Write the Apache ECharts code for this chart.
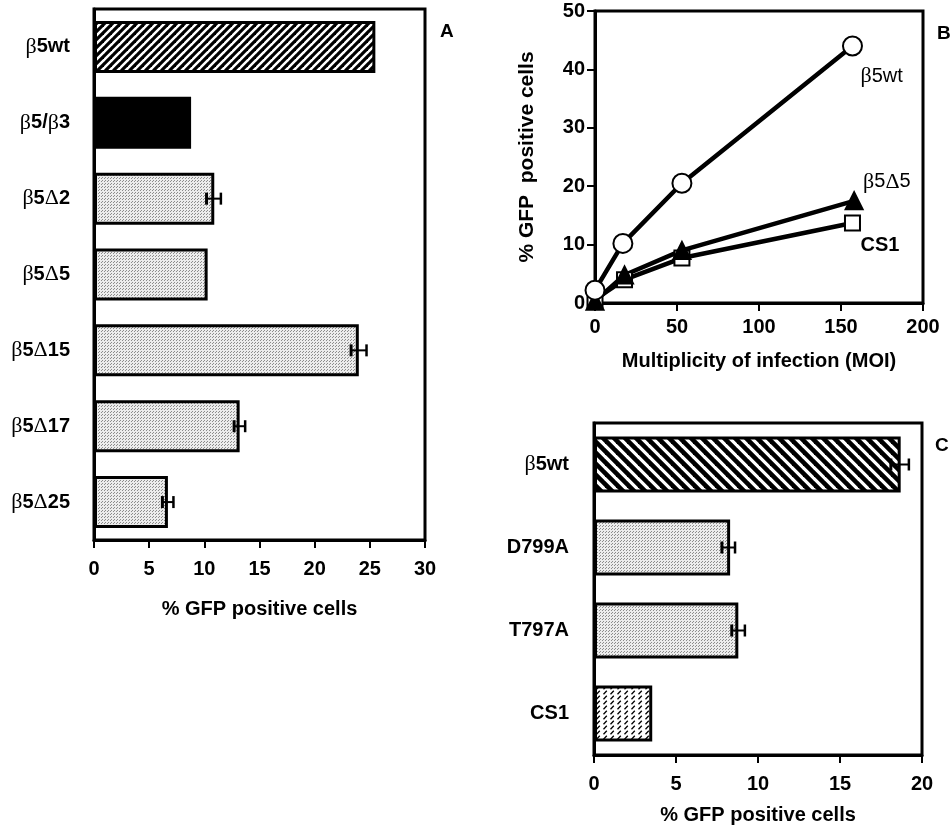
<!DOCTYPE html>
<html><head><meta charset="utf-8">
<script src="https://cdn.jsdelivr.net/npm/echarts@6/dist/echarts.min.js"></script>
<style>html,body{margin:0;padding:0;background:#fff}#c{width:951px;height:825px}</style>
</head><body><div id="c"></div>
<script>
// ---------- data ----------
const catsA = ['β5wt', 'β5/β3', 'β5Δ2', 'β5Δ5', 'β5Δ15', 'β5Δ17', 'β5Δ25'];
const valsA = [25.5, 8.8, 10.9, 10.3, 24.0, 13.2, 6.7];
const errLoA = [null, null, 10.2, null, 23.3, 12.7, 6.2];
const errHiA = [null, null, 11.5, null, 24.7, 13.7, 7.2];
const ticksA = [0, 5, 10, 15, 20, 25, 30];

const moiWt = [0, 17, 53, 157];
const valsWt = [2.2, 10.2, 20.5, 44.0];
const moiD5 = [0, 18, 53, 158];
const valsD5 = [0.3, 4.8, 9.0, 17.5];
const moiCS1 = [0, 18, 53, 157];
const valsCS1 = [0.6, 4.0, 7.7, 13.7];
const ticksBx = [0, 50, 100, 150, 200];
const ticksBy = [0, 10, 20, 30, 40, 50];

const catsC = ['β5wt', 'D799A', 'T797A', 'CS1'];
const valsC = [18.7, 8.3, 8.8, 3.55];
const errLoC = [18.1, 7.8, 8.4, null];
const errHiC = [19.2, 8.6, 9.2, null];
const ticksC = [0, 5, 10, 15, 20];

// ---------- patterns ----------
function pat(w, h, draw) {
  const c = document.createElement('canvas'); c.width = w; c.height = h;
  const g = c.getContext('2d'); draw(g, w, h);
  return { image: c, repeat: 'repeat' };
}
const stripeFwd = pat(8, 8, (g, w, h) => {
  g.fillStyle = '#fff'; g.fillRect(0, 0, w, h);
  g.strokeStyle = '#000'; g.lineWidth = 3.2;
  for (const k of [0, 8, 16]) { g.beginPath(); g.moveTo(-2, k + 2); g.lineTo(k + 2, -2); g.stroke(); }
});
const stripeBack = pat(11, 11, (g, w, h) => {
  g.fillStyle = '#fff'; g.fillRect(0, 0, w, h);
  g.strokeStyle = '#000'; g.lineWidth = 4.6;
  for (const k of [-11, 0, 11]) { g.beginPath(); g.moveTo(-2, k - 2); g.lineTo(w + 2, k + w + 2); g.stroke(); }
});
const dots = pat(3, 3, (g, w, h) => {
  g.fillStyle = '#ececec'; g.fillRect(0, 0, w, h);
  g.fillStyle = '#8c8c8c'; g.fillRect(0, 0, 1, 1); g.fillRect(2, 1, 1, 1);
});
const dashes = pat(7, 5, (g, w, h) => {
  g.fillStyle = '#fff'; g.fillRect(0, 0, w, h);
  g.strokeStyle = '#000'; g.lineWidth = 1.3;
  g.beginPath(); g.moveTo(1.5, 4.2); g.lineTo(4.8, 0.8); g.stroke();
});
const fillA = { 'β5wt': stripeFwd, 'β5/β3': '#000' };
const fillC = { 'β5wt': stripeBack, 'CS1': dashes };

// ---------- helpers ----------
const FONT = 'Liberation Sans, Arial, Helvetica, sans-serif';
const greek = v => v.replace(/([βΔ])/g, '{g|$1}');
const richG = { g: { fontFamily: 'Liberation Serif, DejaVu Serif, serif', fontWeight: 'normal', fontSize: 22, color: '#000' } };

function errSeries(xi, yi, lo, hi) {
  const data = [];
  lo.forEach((l, i) => { if (l != null) data.push([l, hi[i], i]); });
  return {
    type: 'custom', xAxisIndex: xi, yAxisIndex: yi, z: 5,
    data: data,
    renderItem: (params, api) => {
      const p1 = api.coord([api.value(0), api.value(2)]);
      const p2 = api.coord([api.value(1), api.value(2)]);
      const hh = 6;
      return { type: 'group', children: [
        { type: 'line', shape: { x1: p1[0], y1: p1[1], x2: p2[0], y2: p2[1] }, style: { stroke: '#000', lineWidth: 2 } },
        { type: 'line', shape: { x1: p1[0], y1: p1[1] - hh, x2: p1[0], y2: p1[1] + hh }, style: { stroke: '#000', lineWidth: 3 } },
        { type: 'line', shape: { x1: p2[0], y1: p2[1] - hh, x2: p2[0], y2: p2[1] + hh }, style: { stroke: '#000', lineWidth: 2.5 } }
      ] };
    }
  };
}

const valAxisBase = (min, max, interval, gridIndex, name, nameGap, margin) => ({
  type: 'value', gridIndex, min, max, interval,
  splitLine: { show: false },
  axisLine: { show: true, lineStyle: { color: '#000', width: 3 } },
  axisTick: { show: true, length: 8, lineStyle: { color: '#000', width: 2 } },
  axisLabel: { color: '#000', fontFamily: FONT, fontWeight: 'bold', fontSize: 20, margin },
  name, nameLocation: 'middle', nameGap,
  nameTextStyle: { color: '#000', fontFamily: FONT, fontWeight: 'bold', fontSize: 20 }
});

const catAxis = (cats, gridIndex, margin) => ({
  type: 'category', gridIndex, data: cats, inverse: true,
  axisLine: { show: true, lineStyle: { color: '#000', width: 3 } },
  axisTick: { show: false },
  axisLabel: { color: '#000', fontFamily: FONT, fontWeight: 'bold', fontSize: 20, margin,
    formatter: v => greek(v), rich: richG }
});

function lineSeries(xs, ys, symbol, size, fill, label, off) {
  const data = xs.map((x, i) => [x, ys[i]]);
  const last = data.length - 1;
  const d = data.map((p, i) => i === last ? { value: p, label: {
    show: true, position: 'inside', align: 'left', verticalAlign: 'middle', offset: off,
    formatter: greek(label), color: '#000', fontFamily: FONT,
    fontWeight: label === 'CS1' ? 'bold' : 'normal', fontSize: 20,
    rich: { g: { fontFamily: 'Liberation Serif, DejaVu Serif, serif', fontSize: 22, color: '#000' } } } } : p);
  return {
    type: 'line', xAxisIndex: 1, yAxisIndex: 1, data: d,
    symbol, symbolSize: size, showAllSymbols: true,
    lineStyle: { color: '#000', width: 4.5 },
    itemStyle: { color: fill, borderColor: '#000', borderWidth: 2 },
    emphasis: { disabled: true }, z: 3
  };
}

const chart = echarts.init(document.getElementById('c'), null, { renderer: 'canvas' });
chart.setOption({
  animation: false,
  backgroundColor: '#fff',
  grid: [
    { left: 94, top: 9, width: 331, height: 531, show: true, borderColor: '#000', borderWidth: 3, containLabel: false, outerBoundsMode: 'none' },
    { left: 595, top: 11, width: 328, height: 292, show: true, borderColor: '#000', borderWidth: 3, containLabel: false, outerBoundsMode: 'none' },
    { left: 594, top: 423, width: 328, height: 332, show: true, borderColor: '#000', borderWidth: 3, containLabel: false, outerBoundsMode: 'none' }
  ],
  xAxis: [
    valAxisBase(ticksA[0], ticksA[ticksA.length - 1], ticksA[1] - ticksA[0], 0, '% GFP positive cells', 59, 19),
    valAxisBase(ticksBx[0], ticksBx[ticksBx.length - 1], ticksBx[1] - ticksBx[0], 1, 'Multiplicity of infection (MOI)', 48, 14),
    valAxisBase(ticksC[0], ticksC[ticksC.length - 1], ticksC[1] - ticksC[0], 2, '% GFP positive cells', 50, 19)
  ],
  yAxis: [
    catAxis(catsA, 0, 24),
    Object.assign(valAxisBase(ticksBy[0], ticksBy[ticksBy.length - 1], ticksBy[1] - ticksBy[0], 1, '% GFP  positive cells', 57, 10),
      { nameTextStyle: { color: '#000', fontFamily: FONT, fontWeight: 'bold', fontSize: 21 } }),
    catAxis(catsC, 2, 25)
  ],
  series: [
    { type: 'bar', xAxisIndex: 0, yAxisIndex: 0, barWidth: 52,
      data: valsA.map((v, i) => ({ value: v, itemStyle: { color: fillA[catsA[i]] || dots } })),
      itemStyle: { borderColor: '#000', borderWidth: 3 }, emphasis: { disabled: true } },
    errSeries(0, 0, errLoA, errHiA),
    lineSeries(moiCS1, valsCS1, 'rect', 15, '#fff', 'CS1', [8, 22]),
    lineSeries(moiD5, valsD5, 'triangle', 17, '#000', 'β5Δ5', [9, -19]),
    lineSeries(moiWt, valsWt, 'circle', 19, '#fff', 'β5wt', [8, 30]),
    { type: 'bar', xAxisIndex: 2, yAxisIndex: 2, barWidth: 56,
      data: valsC.map((v, i) => ({ value: v, itemStyle: { color: fillC[catsC[i]] || dots } })),
      itemStyle: { borderColor: '#000', borderWidth: 3 }, emphasis: { disabled: true } },
    errSeries(2, 2, errLoC, errHiC)
  ],
  graphic: [
    { type: 'text', left: 440, top: 22, style: { text: 'A', fontFamily: FONT, fontWeight: 'bold', fontSize: 19, fill: '#000' } },
    { type: 'text', left: 937, top: 24, style: { text: 'B', fontFamily: FONT, fontWeight: 'bold', fontSize: 19, fill: '#000' } },
    { type: 'text', left: 935, top: 436, style: { text: 'C', fontFamily: FONT, fontWeight: 'bold', fontSize: 19, fill: '#000' } }
  ]
});
</script></body></html>
